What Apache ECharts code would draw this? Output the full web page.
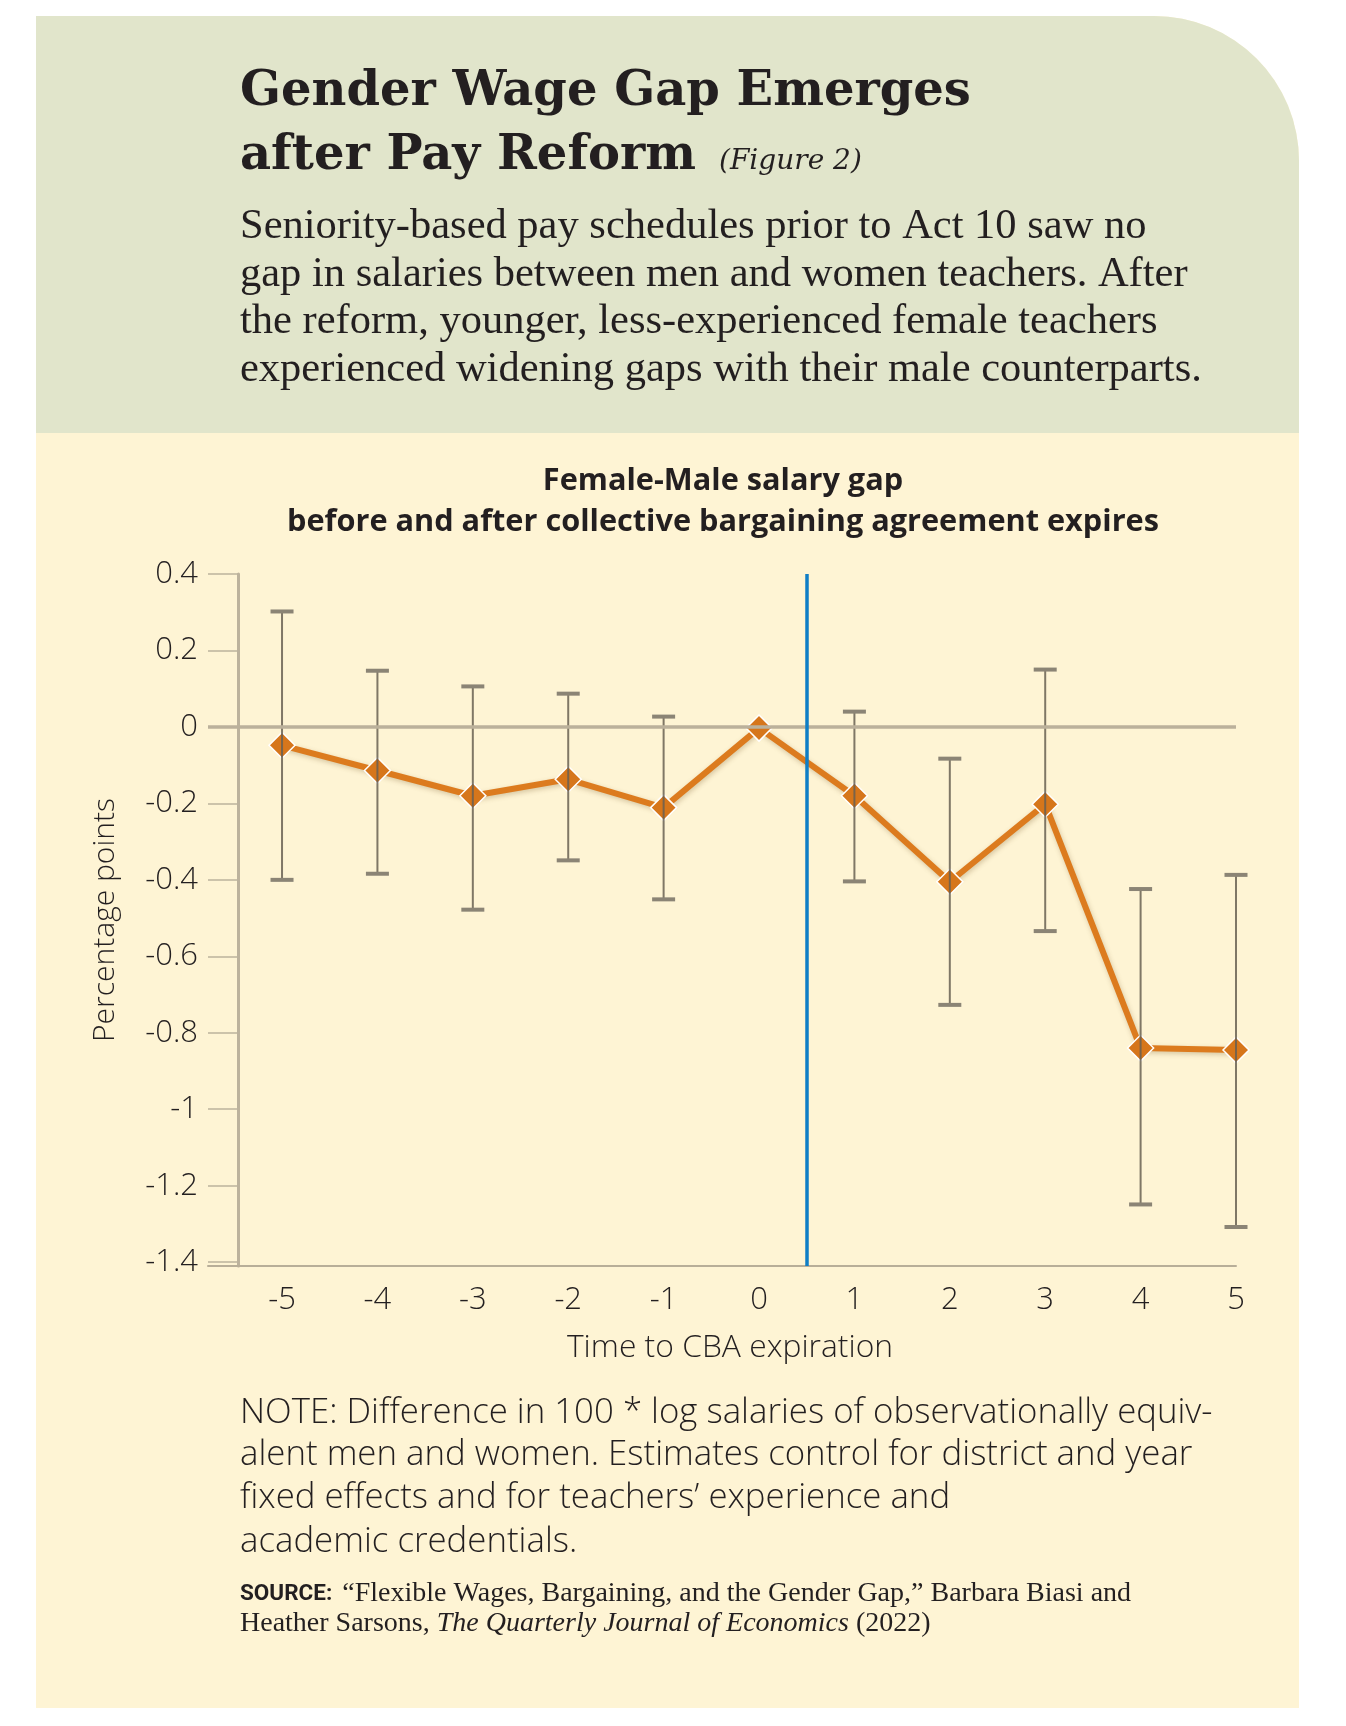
<!DOCTYPE html>
<html>
<head>
<meta charset="utf-8">
<script src="https://cdn.jsdelivr.net/npm/echarts@6/dist/echarts.min.js"></script>
<style>
html,body{margin:0;padding:0;background:#ffffff;}
#chart{width:1346px;height:1726px;}
</style>
</head>
<body>
<div id="chart"></div>
<script>
// ---- Data ----
const categories = [-5, -4, -3, -2, -1, 0, 1, 2, 3, 4, 5];
const gapValues = [-0.048, -0.114, -0.180, -0.137, -0.211, -0.003, -0.180, -0.405, -0.202, -0.840, -0.845];
const ciUpper = [0.302, 0.147, 0.106, 0.087, 0.027, null, 0.040, -0.083, 0.150, -0.424, -0.387];
const ciLower = [-0.400, -0.384, -0.478, -0.349, -0.451, null, -0.404, -0.727, -0.534, -1.249, -1.308];
const yTickValues = [0.4, 0.2, 0, -0.2, -0.4, -0.6, -0.8, -1, -1.2, -1.4];
const xTickValues = [-5, -4, -3, -2, -1, 0, 1, 2, 3, 4, 5];
const cbaBreak = 0.5;

const titleLines = ['Gender Wage Gap Emerges', 'after Pay Reform'];
const figureTag = '(Figure 2)';
const introLines = [
  'Seniority-based pay schedules prior to Act 10 saw no',
  'gap in salaries between men and women teachers. After',
  'the reform, younger, less-experienced female teachers',
  'experienced widening gaps with their male counterparts.'
];
const noteLines = [
  'NOTE: Difference in 100 * log salaries of observationally equiv-',
  'alent men and women. Estimates control for district and year',
  'fixed effects and for teachers\u2019 experience and',
  'academic credentials.'
];

const INK = '#231f20';
const chart = echarts.init(document.getElementById('chart'), null, {renderer: 'canvas'});

const linePoints = categories.map((c, i) => [c, gapValues[i]]);
const errData = [];
categories.forEach((c, i) => {
  if (ciUpper[i] != null && ciLower[i] != null) errData.push([c, ciLower[i], ciUpper[i]]);
});

const graphics = [
  {type: 'rect', z: -20, shape: {x: 36, y: 16, width: 1263, height: 1692, r: [0, 145, 0, 0]}, style: {fill: '#fef4d4'}},
  {type: 'rect', z: -19, shape: {x: 36, y: 16, width: 1263, height: 417, r: [0, 145, 0, 0]}, style: {fill: '#e1e5cb'}},
  {type: 'text', z: 10, x: 240, y: 93, style: {text: titleLines[0], fill: INK, font: 'bold 48px "DejaVu Serif"', verticalAlign: 'middle'}},
  {type: 'text', z: 10, x: 240, y: 157, style: {text: titleLines[1], fill: INK, font: 'bold 48px "DejaVu Serif"', verticalAlign: 'middle'}},
  {type: 'text', z: 10, x: 719, y: 162, style: {text: figureTag, fill: INK, font: 'italic 28px "DejaVu Serif"', verticalAlign: 'middle'}}
];
const introBase = [240, 287.5, 335, 382.5];
introLines.forEach((t, i) => graphics.push({type: 'text', z: 10, x: 240, y: introBase[i] - 13,
  style: {text: t, fill: INK, font: '42.5px "Liberation Serif"', verticalAlign: 'middle'}}));
const noteBase = [1422.7, 1465.5, 1508.5, 1552];
noteLines.forEach((t, i) => graphics.push({type: 'text', z: 10, x: 240, y: noteBase[i] - 10,
  style: {text: t, fill: INK, font: '300 34.8px "Open Sans"', verticalAlign: 'middle'}}));
const srcRich = {
  b: {fontFamily: 'Roboto', fontWeight: 'bold', fontSize: 22.5, fill: INK, padding: [0, 10, 0, 0]},
  s: {fontFamily: 'Liberation Serif', fontSize: 28, fill: INK},
  i: {fontFamily: 'Liberation Serif', fontStyle: 'italic', fontSize: 28, fill: INK}
};
graphics.push({type: 'text', z: 10, x: 240, y: 1594, style: {
  text: '{b|SOURCE:}{s|\u201cFlexible Wages, Bargaining, and the Gender Gap,\u201d Barbara Biasi and}',
  rich: srcRich, verticalAlign: 'middle', fill: INK}});
graphics.push({type: 'text', z: 10, x: 240, y: 1624, style: {
  text: '{s|Heather Sarsons, }{i|The Quarterly Journal of Economics}{s| (2022)}',
  rich: srcRich, verticalAlign: 'middle', fill: INK}});

const labelStyle = {fontFamily: 'Open Sans', fontWeight: 300, fontSize: 31, color: INK};

const option = {
  animation: false,
  backgroundColor: '#ffffff',
  graphic: graphics,
  title: {
    text: 'Female-Male salary gap\nbefore and after collective bargaining agreement expires',
    left: 718, top: 456, textAlign: 'center',
    textStyle: {fontFamily: 'Open Sans', fontWeight: 'bold', fontSize: 30.7, lineHeight: 41, color: INK}
  },
  grid: {left: 208, right: 110, top: 574, bottom: 460},
  xAxis: {
    type: 'value', min: -5.776, max: 5,
    axisLine: {show: true, onZero: false, lineStyle: {color: '#b8ae98', width: 2}},
    axisTick: {show: false},
    splitLine: {show: false},
    axisLabel: Object.assign({customValues: xTickValues, margin: 19}, labelStyle),
    name: 'Time to CBA expiration', nameLocation: 'middle', nameGap: 66,
    nameTextStyle: Object.assign({}, labelStyle, {fontSize: 31.8, padding: [0, 0, 0, 16]})
  },
  yAxis: {
    type: 'value', min: -1.41, max: 0.4, offset: -30,
    axisLine: {show: true, onZero: false, lineStyle: {color: '#bcb29c', width: 3}},
    axisTick: {show: true, customValues: yTickValues, length: 30, lineStyle: {color: '#bcb29c', width: 1.5}},
    splitLine: {show: false},
    axisLabel: Object.assign({customValues: yTickValues, margin: 40}, labelStyle),
    name: 'Percentage points', nameLocation: 'middle', nameGap: 118, nameRotate: 90,
    nameTextStyle: Object.assign({}, labelStyle, {fontSize: 30})
  },
  series: [
    {
      type: 'line', data: [], z: 1, silent: true,
      markLine: {
        silent: true, symbol: 'none', label: {show: false}, animation: false,
        data: [
          {yAxis: 0, lineStyle: {color: '#bbb19b', width: 3.5, type: 'solid'}},
          {xAxis: cbaBreak, lineStyle: {color: '#0f7ec6', width: 3.5, type: 'solid'}}
        ]
      }
    },
    {
      type: 'line', data: linePoints, z: 3,
      symbol: 'diamond', symbolSize: 26,
      itemStyle: {color: '#d6761b', borderColor: '#ffffff', borderWidth: 1.5},
      lineStyle: {color: '#dc7b1e', width: 6, shadowColor: 'rgba(120,90,40,0.3)', shadowBlur: 5, shadowOffsetX: 1, shadowOffsetY: 2}
    },
    {
      type: 'custom', z: 4, data: errData,
      encode: {x: 0, y: [1, 2]},
      renderItem: function (params, api) {
        const x = api.value(0), lo = api.value(1), hi = api.value(2);
        const pLo = api.coord([x, lo]);
        const pHi = api.coord([x, hi]);
        const cw = 11.5;
        return {
          type: 'group',
          children: [
            {type: 'line', shape: {x1: pLo[0], y1: pLo[1], x2: pHi[0], y2: pHi[1]}, style: {stroke: 'rgba(105,96,82,0.85)', lineWidth: 2}},
            {type: 'line', shape: {x1: pHi[0] - cw, y1: pHi[1], x2: pHi[0] + cw, y2: pHi[1]}, style: {stroke: '#8b8475', lineWidth: 4}},
            {type: 'line', shape: {x1: pLo[0] - cw, y1: pLo[1], x2: pLo[0] + cw, y2: pLo[1]}, style: {stroke: '#8b8475', lineWidth: 4}}
          ]
        };
      }
    }
  ]
};
chart.setOption(option);
</script>
</body>
</html>
